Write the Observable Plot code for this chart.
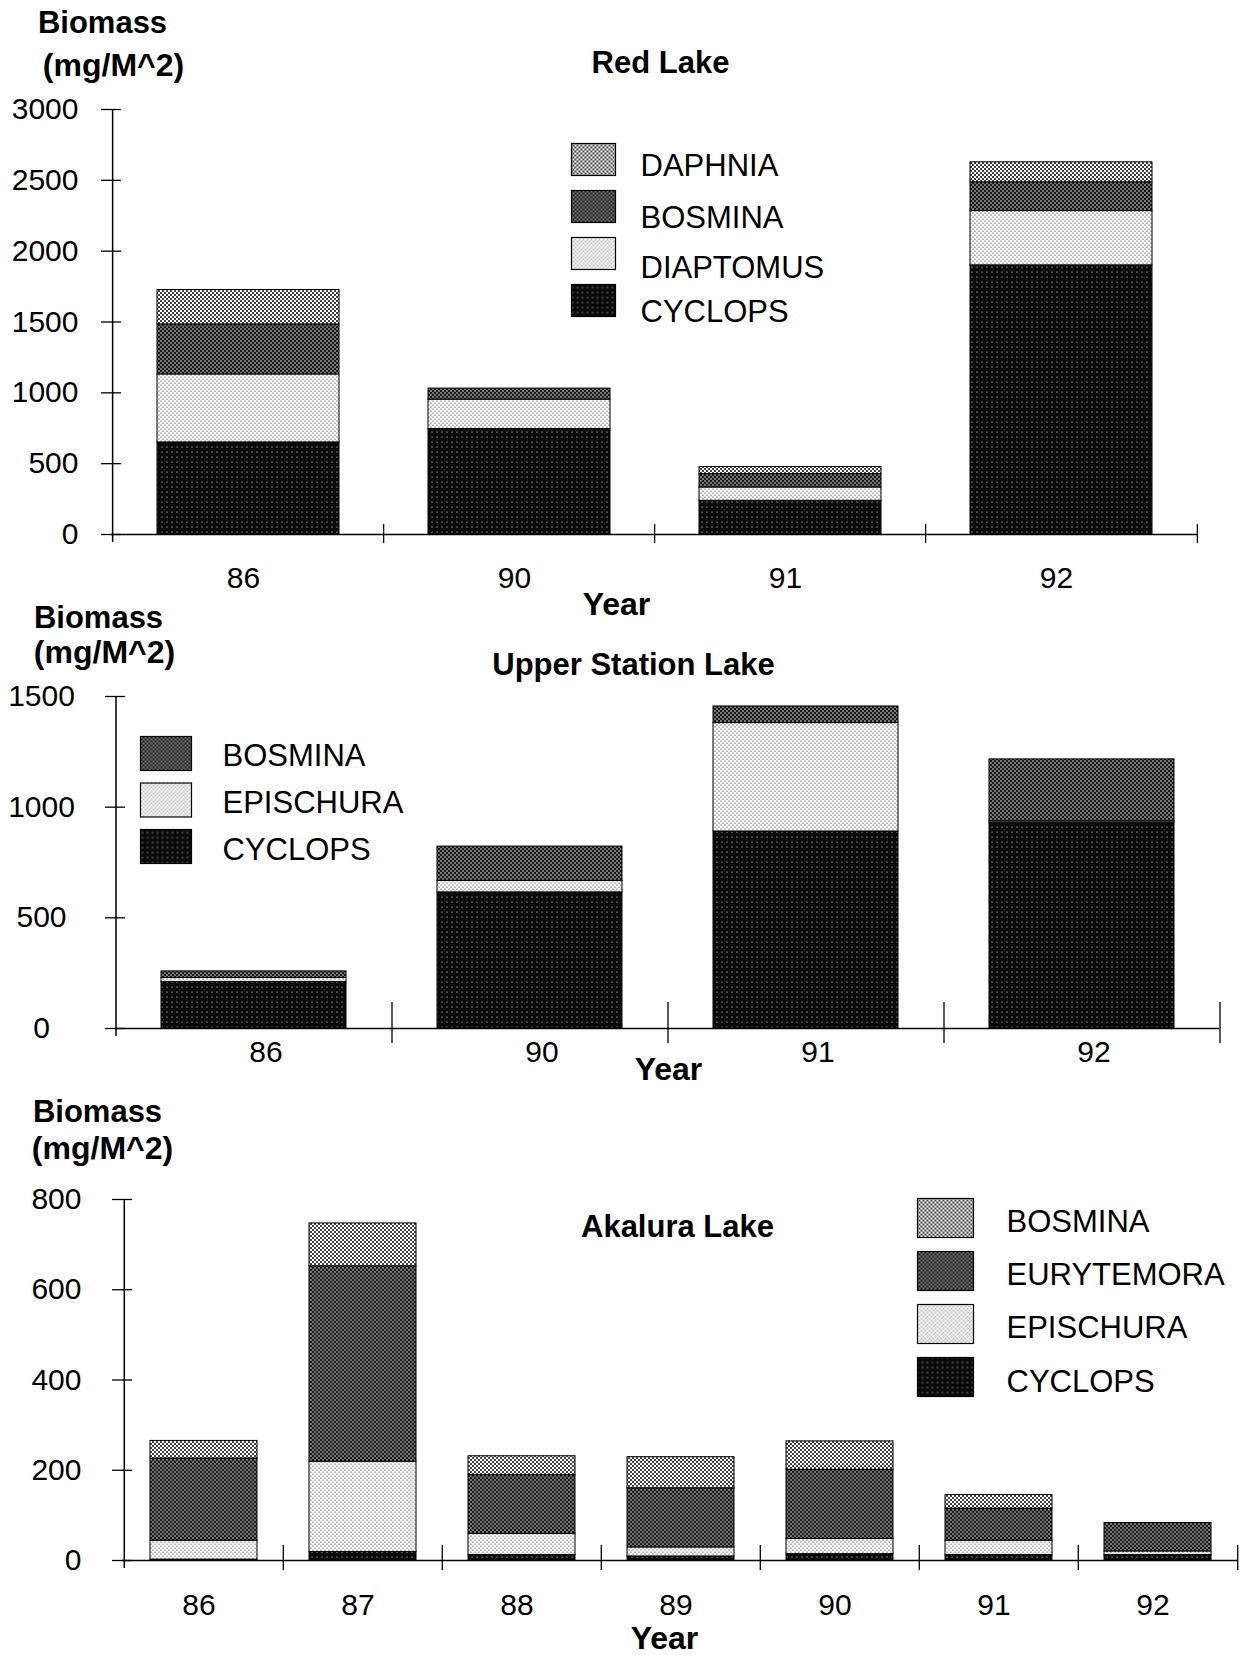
<!DOCTYPE html>
<html>
<head>
<meta charset="utf-8">
<script src="https://cdn.jsdelivr.net/npm/d3@7"></script>
<script src="https://cdn.jsdelivr.net/npm/@observablehq/plot@0.6"></script>
<style>
  body { margin: 0; background: #fff; }
  #page { position: relative; width: 1249px; height: 1655px; font-family: "Liberation Sans", Arial, sans-serif; }
</style>
</head>
<body>
<div id="page">
  <!-- halftone fills shared by all three panels -->
  <svg width="0" height="0" style="position:absolute">
    <defs>
      <pattern id="pat-light" width="4" height="4" patternUnits="userSpaceOnUse">
        <rect width="4" height="4" fill="#fff"/>
        <circle cx="1" cy="1" r="0.6" fill="#000"/>
        <circle cx="3" cy="3" r="0.6" fill="#000"/>
      </pattern>
      <pattern id="pat-mid" width="4" height="4" patternUnits="userSpaceOnUse">
        <rect width="4" height="4" fill="#fff"/>
        <circle cx="1" cy="1" r="1.0" fill="#000"/>
        <circle cx="3" cy="3" r="1.0" fill="#000"/>
      </pattern>
      <pattern id="pat-dark" width="4" height="4" patternUnits="userSpaceOnUse">
        <rect width="4" height="4" fill="#1a1a1a"/>
        <circle cx="1" cy="1" r="0.75" fill="#fff"/>
        <circle cx="3" cy="3" r="0.75" fill="#fff"/>
      </pattern>
      <pattern id="pat-black" width="5" height="5" patternUnits="userSpaceOnUse">
        <rect width="5" height="5" fill="#0a0a0a"/>
        <circle cx="2" cy="2" r="0.55" fill="#fff"/>
      </pattern>
    </defs>
  </svg>
</div>
<script>
// ---- Red Lake, biomass (mg/M^2) by year ----
const redYears = ["86", "90", "91", "92"];
const redSpecies = ["CYCLOPS", "DIAPTOMUS", "BOSMINA", "DAPHNIA"];   // stack order, bottom to top
const redCyclops   = [650, 745, 238, 1900];
const redDiaptomus = [480, 207,  94,  383];
const redBosmina   = [353,  78,  94,  203];
const redDaphnia   = [243,   0,  50,  141];
const redTicks = [0, 500, 1000, 1500, 2000, 2500, 3000];

// ---- Upper Station Lake ----
const upperYears = ["86", "90", "91", "92"];
const upperSpecies = ["CYCLOPS", "EPISCHURA", "BOSMINA"];
const upperCyclops   = [210, 615, 890, 930];
const upperEpischura = [ 18,  52, 490,   6];
const upperBosmina   = [ 30, 155,  75, 280];
const upperTicks = [0, 500, 1000, 1500];

// ---- Akalura Lake ----
const akaYears = ["86", "87", "88", "89", "90", "91", "92"];
const akaSpecies = ["CYCLOPS", "EPISCHURA", "EURYTEMORA", "BOSMINA"];
const akaCyclops    = [  2,  19,  12,   9,  14,  12, 12];
const akaEpischura  = [ 42, 200,  47,  20,  34,  32,  8];
const akaEurytemora = [182, 433, 130, 131, 153,  71, 63];
const akaBosmina    = [ 39,  95,  42,  69,  63,  30,  0];
const akaTicks = [0, 200, 400, 600, 800];

const W = 1249;
const page = document.getElementById("page");

function drawPanel(p) {
  const frameW = W - p.ml - p.mr;
  const frameH = p.height - p.mt - p.mb;
  const step = frameW / p.years.length;          // band step (outer padding = inner / 2)
  const frameBottom = p.top + p.height - p.mb;   // page y of the zero line

  // tidy rows in stacking order
  const rows = [];
  p.species.forEach((s, k) => p.values[k].forEach((v, i) => {
    if (v > 0) rows.push({year: p.years[i], species: s, value: v});
  }));

  // text placed at page coordinates, measured from the frame's top-left corner
  const at = (X, Y) => ({frameAnchor: "top-left", dx: X - p.ml, dy: Y - p.top - p.mt});
  const label = (str, X, Y, extra = {}) =>
    Plot.text([str], {...at(X, Y), text: d => d, textAnchor: "middle", lineAnchor: "middle", fontSize: 30, ...extra});

  const legendMarks = [];
  p.legend.forEach((s, i) => {
    const y0 = p.lg.top + i * p.lg.gap;
    legendMarks.push(Plot.frame({
      fill: p.fills[s], stroke: "#000", strokeWidth: 1.2,
      insetLeft: p.lg.x - p.ml,
      insetRight: (W - p.mr) - (p.lg.x + p.lg.w),
      insetTop: (y0 - p.top) - p.mt,
      insetBottom: frameBottom - (y0 + p.lg.h)
    }));
    legendMarks.push(label(s, p.lg.tx, p.lg.ty[i], {textAnchor: "start", fontSize: 31}));
  });

  const bold = {fontWeight: "bold", fontSize: 32};

  const svg = Plot.plot({
    width: W,
    height: p.height,
    marginLeft: p.ml, marginRight: p.mr, marginTop: p.mt, marginBottom: p.mb,
    x: {domain: p.years, paddingInner: 0.33, paddingOuter: 0.165, axis: null},
    y: {domain: [0, p.yMax], axis: null},
    color: {domain: p.species, range: p.species.map(s => p.fills[s])},
    style: {overflow: "visible", background: "transparent", fontFamily: "'Liberation Sans', Arial, sans-serif", color: "#000"},
    marks: [
      Plot.barY(rows, {x: "year", y: "value", fill: "species", stroke: "#000", strokeWidth: 1}),
      // zero line and y axis line
      Plot.ruleY([0], {stroke: "#000", strokeWidth: 1.5}),
      Plot.tickX([p.years[0]], {x: d => d, dx: -step / 2, insetBottom: -8, stroke: "#000", strokeWidth: 1.5}),
      // category separators on the year axis
      Plot.tickX(p.years.slice(1), {x: d => d, dx: -step / 2, insetTop: frameH - p.tickUp, insetBottom: -p.tickDown, stroke: "#000", strokeWidth: 1.3}),
      Plot.tickX([p.years[p.years.length - 1]], {x: d => d, dx: step / 2, insetTop: frameH - p.tickUp, insetBottom: -p.tickDown, stroke: "#000", strokeWidth: 1.3}),
      // y ticks crossing the axis, with labels
      Plot.tickY(p.ticks, {y: d => d, dx: -10, insetRight: frameW - 20, stroke: "#000", strokeWidth: 1.3}),
      Plot.text(p.ticks, {y: d => d, text: d => String(d), frameAnchor: "left", dx: p.labelX - p.ml, textAnchor: p.labelAnchor, lineAnchor: "middle", fontSize: 30}),
      // year labels
      Plot.text(p.years, {x: d => d, text: d => d, frameAnchor: "bottom", dx: p.yearDx, dy: p.yearY - frameBottom, lineAnchor: "middle", fontSize: 30}),
      // titles
      label("Biomass", p.t.biomass[0], p.t.biomass[1], {...bold, fontSize: 31}),
      label("(mg/M^2)", p.t.unit[0], p.t.unit[1], bold),
      label(p.title, p.t.title[0], p.t.title[1], {...bold, fontSize: 31}),
      label("Year", p.t.year[0], p.t.year[1], bold),
      ...legendMarks
    ]
  });
  svg.style.position = "absolute";
  svg.style.left = "0px";
  svg.style.top = p.top + "px";
  page.appendChild(svg);
}

drawPanel({
  title: "Red Lake",
  top: 0, height: 620, ml: 111, mr: 51, mt: 109, mb: 86,
  years: redYears, species: redSpecies,
  values: [redCyclops, redDiaptomus, redBosmina, redDaphnia],
  fills: {CYCLOPS: "url(#pat-black)", DIAPTOMUS: "url(#pat-light)", BOSMINA: "url(#pat-dark)", DAPHNIA: "url(#pat-mid)"},
  yMax: 3000, ticks: redTicks, labelX: 78, labelAnchor: "end",
  yearY: 578, yearDx: -5, tickUp: 10, tickDown: 9,
  t: {biomass: [102, 23], unit: [113, 65], title: [660, 63], year: [616, 604]},
  legend: ["DAPHNIA", "BOSMINA", "DIAPTOMUS", "CYCLOPS"],
  lg: {x: 571, w: 44, h: 32, top: 143, gap: 47, tx: 640, ty: [166, 218, 268, 312]}
});

drawPanel({
  title: "Upper Station Lake",
  top: 600, height: 490, ml: 115, mr: 30, mt: 96, mb: 62,
  years: upperYears, species: upperSpecies,
  values: [upperCyclops, upperEpischura, upperBosmina],
  fills: {CYCLOPS: "url(#pat-black)", EPISCHURA: "url(#pat-light)", BOSMINA: "url(#pat-dark)"},
  yMax: 1500, ticks: upperTicks, labelX: 41, labelAnchor: "middle",
  yearY: 1052, yearDx: 12, tickUp: 26, tickDown: 15,
  t: {biomass: [98, 618], unit: [104, 652], title: [633, 665], year: [668, 1069]},
  legend: ["BOSMINA", "EPISCHURA", "CYCLOPS"],
  lg: {x: 140, w: 51, h: 34, top: 736, gap: 46.5, tx: 222, ty: [756, 803, 850]}
});

drawPanel({
  title: "Akalura Lake",
  top: 1085, height: 570, ml: 122, mr: 11, mt: 114, mb: 95,
  years: akaYears, species: akaSpecies,
  values: [akaCyclops, akaEpischura, akaEurytemora, akaBosmina],
  fills: {CYCLOPS: "url(#pat-black)", EPISCHURA: "url(#pat-light)", EURYTEMORA: "url(#pat-dark)", BOSMINA: "url(#pat-mid)"},
  yMax: 800, ticks: akaTicks, labelX: 81, labelAnchor: "end",
  yearY: 1605, yearDx: -5, tickUp: 15, tickDown: 10,
  t: {biomass: [97, 1112], unit: [102, 1148], title: [677, 1227], year: [664, 1638]},
  legend: ["BOSMINA", "EURYTEMORA", "EPISCHURA", "CYCLOPS"],
  lg: {x: 917, w: 56, h: 39, top: 1198, gap: 53, tx: 1006, ty: [1222, 1275, 1328, 1382]}
});
</script>
</body>
</html>
